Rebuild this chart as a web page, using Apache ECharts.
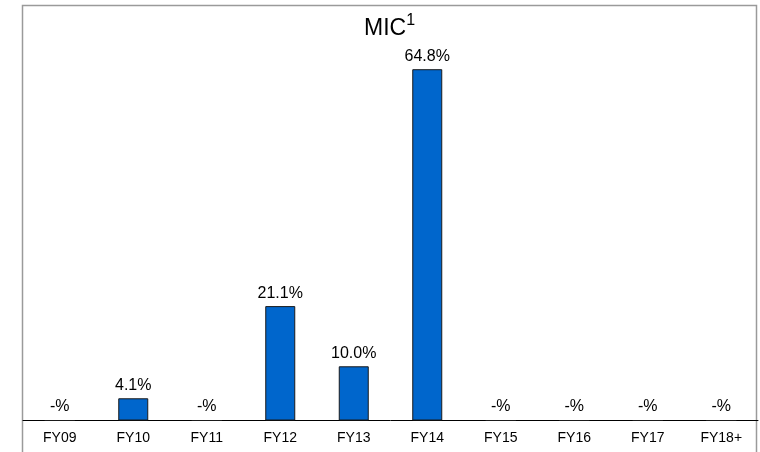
<!DOCTYPE html>
<html>
<head>
<meta charset="utf-8">
<script src="https://cdn.jsdelivr.net/npm/echarts@6/dist/echarts.min.js"></script>
<style>
  html, body { margin: 0; padding: 0; background: #ffffff; }
  #chart { width: 760px; height: 452px; }
</style>
</head>
<body>
<div id="chart"></div>
<script>
// Fiscal-year buckets and share of MIC per year (%)
const categories = ['FY09', 'FY10', 'FY11', 'FY12', 'FY13', 'FY14', 'FY15', 'FY16', 'FY17', 'FY18+'];
const shares = [0, 4.1, 0, 21.1, 10.0, 64.8, 0, 0, 0, 0];

const chart = echarts.init(document.getElementById('chart'), null, { renderer: 'canvas' });

const FONT = '"Liberation Sans", Arial, sans-serif';

chart.setOption({
  animation: false,
  backgroundColor: '#ffffff',
  title: {
    text: '{main|MIC}{sup|1}',
    left: 359,
    top: 8,
    textStyle: {
      fontWeight: 'normal',
      rich: {
        main: { fontFamily: FONT, fontSize: 23, fontWeight: 'normal', color: '#000', verticalAlign: 'bottom', lineHeight: 27 },
        sup: { fontFamily: FONT, fontSize: 16, fontWeight: 'normal', color: '#000', verticalAlign: 'top', lineHeight: 27, padding: [0, 0, 10, 0] }
      }
    }
  },
  graphic: [{
    type: 'polyline',
    silent: true,
    shape: { points: [[22.5, 460], [22.5, 5.5], [756.5, 5.5], [756.5, 460]] },
    style: { stroke: '#9a9a9a', lineWidth: 1.5, fill: null }
  }],
  grid: { left: 23, right: 2, top: 41, bottom: 31.5, containLabel: false },
  xAxis: {
    type: 'category',
    data: categories,
    axisLine: { show: true, lineStyle: { color: '#000', width: 1 } },
    axisTick: { show: false },
    axisLabel: { fontFamily: FONT, fontSize: 14, color: '#000', margin: 11 }
  },
  yAxis: {
    type: 'value',
    min: 0,
    max: 70,
    show: false,
    splitLine: { show: false }
  },
  series: [{
    type: 'bar',
    data: shares,
    barWidth: 30,
    itemStyle: { color: '#0066CC', borderColor: '#1a1a1a', borderWidth: 1 },
    label: {
      show: true,
      position: 'top',
      distance: 5,
      fontFamily: FONT,
      fontSize: 16,
      color: '#000',
      formatter: p => p.value === 0 ? '-%' : p.value.toFixed(1) + '%'
    }
  }]
});
</script>
</body>
</html>
